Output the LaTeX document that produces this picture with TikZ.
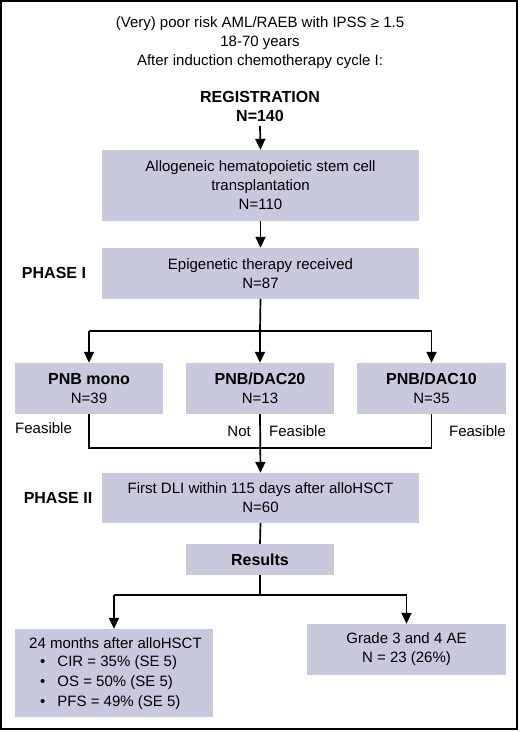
\documentclass[tikz,border=0pt]{standalone}
\usepackage{fontspec}
\setmainfont{Liberation Sans}
\usetikzlibrary{arrows.meta}
\definecolor{boxfill}{RGB}{200,201,220}
\newcommand{\bigbf}[1]{{\fontsize{16}{19}\selectfont\bfseries #1}}
\begin{document}
\begin{tikzpicture}[x=1pt,y=-1pt,
  every node/.style={font=\fontsize{15}{19}\selectfont, inner sep=0pt},
  box/.style={fill=boxfill, align=center},
  conn/.style={line width=1.7pt},
  arr/.style={conn, -{Triangle[length=11pt,width=10pt]}},
  hdr/.style={font=\fontsize{16}{19}\selectfont\bfseries}
]
\useasboundingbox (0,0) rectangle (520,732);
\draw[line width=2.2pt] (1.2,1) rectangle (517,729);

% title
\node (t1) at (260,24) {(Very) poor risk AML/RAEB with IPSS ≥ 1.5};
\node (t2) at (260,43) {18-70 years};
\node (t3) at (260,62) {After induction chemotherapy cycle I:};
\node[hdr, align=center] (reg) at (260,106.5) {REGISTRATION\\N=140};

% boxes
\node[box, minimum width=317pt, minimum height=71pt] (b1) at (260.5,185.5)
  {Allogeneic hematopoietic stem cell\\transplantation\\N=110};
\node[box, minimum width=317pt, minimum height=51pt] (b2) at (260.5,273.5)
  {Epigenetic therapy received\\N=87};
\node[hdr] (ph1) at (54,273) {PHASE I};

\node[box, minimum width=148pt, minimum height=51pt] (m1) at (89,388.5)
  {\bigbf{PNB mono}\\N=39};
\node[box, minimum width=148pt, minimum height=51pt] (m2) at (260,388.5)
  {\bigbf{PNB/DAC20}\\N=13};
\node[box, minimum width=149pt, minimum height=51pt] (m3) at (431.5,388.5)
  {\bigbf{PNB/DAC10}\\N=35};

\node[anchor=west] (f1) at (15,428) {Feasible};
\node[anchor=east] (nt) at (251,431) {Not};
\node[anchor=west] (f2) at (269,431) {Feasible};
\node[anchor=east] (f3) at (506,431) {Feasible};

\node[box, minimum width=317pt, minimum height=50pt] (b3) at (260.5,498)
  {First DLI within 115 days after alloHSCT\\N=60};
\node[hdr] (ph2) at (58,498) {PHASE II};

\node[box, minimum width=148pt, minimum height=31pt, font=\fontsize{16}{19}\selectfont\bfseries] (res) at (260,559.5) {Results};

\node[box, minimum width=198pt, minimum height=88pt] (r1) at (114,673) {};
\node[anchor=west] (r1t) at (29,643) {24 months after alloHSCT};
\node[anchor=west] (r1a) at (40,663) {•\hspace{12pt}CIR = 35\% (SE 5)};
\node[anchor=west] (r1b) at (40,683) {•\hspace{12pt}OS = 50\% (SE 5)};
\node[anchor=west] (r1c) at (40,703) {•\hspace{12pt}PFS = 49\% (SE 5)};

\node[box, minimum width=199pt, minimum height=51pt] (r2) at (406.5,649.5)
  {Grade 3 and 4 AE\\N = 23 (26\%)};

% connectors
\draw[arr] (reg.south) ++(0,4) coordinate (regb) -- (b1.north);
\draw[arr] (b1.south) -- (b2.north);

\coordinate (j1) at (260,331);
\coordinate (j1l) at (89,331);
\coordinate (j1r) at (431.5,331);
\draw[conn] (b2.south) -- (j1);
\draw[conn] (j1l) -- (j1r);
\draw[arr] (j1l) -- (m1.north);
\draw[arr] (j1) -- (m2.north);
\draw[arr] (j1r) -- (m3.north);

\coordinate (j2l) at (89,448);
\coordinate (j2r) at (431.5,448);
\draw[conn] (m1.south) -- (j2l) -- (j2r) -- (m3.south);
\draw[arr] (m2.south) -- (b3.north);

\draw[conn] (b3.south) -- (res.north);
\coordinate (j3) at (260,595);
\coordinate (j3l) at (114,595);
\coordinate (j3r) at (406.5,595);
\draw[conn] (res.south) -- (j3);
\draw[conn] (j3l) -- (j3r);
\draw[arr] (j3l) -- (r1.north);
\draw[arr] (j3r) -- (r2.north);
\end{tikzpicture}
\end{document}
